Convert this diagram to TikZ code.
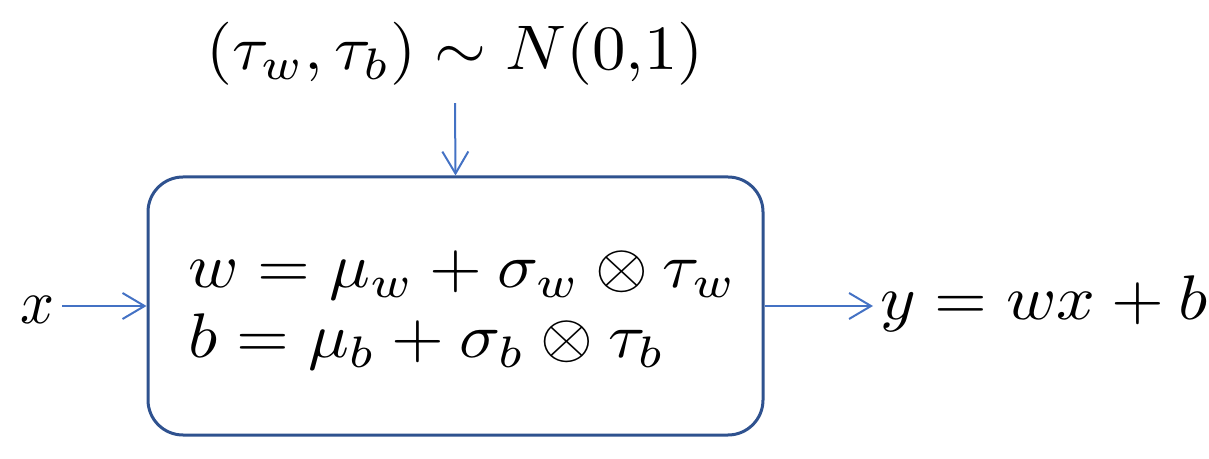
\documentclass[tikz,border=0pt]{standalone}
\usepackage{graphicx}
\usetikzlibrary{arrows.meta}
\definecolor{arrblue}{HTML}{4472C4}
\definecolor{boxblue}{HTML}{2F528F}
\newcommand{\bigmath}[2]{\scalebox{#1}[3.15]{$#2$}}
\tikzset{
  arr/.style={draw=arrblue, line width=1pt, -{Straight Barb[length=11pt,width=13pt,line width=1pt]}},
  mainbox/.style={draw=boxblue, line width=1.5pt, rounded corners=17.5pt, minimum width=307.5pt, minimum height=129pt, inner sep=0pt},
  lbl/.style={font=\normalsize, inner sep=3.5pt},
}
\begin{document}
\begin{tikzpicture}[x=0.5pt,y=-0.5pt]
\useasboundingbox (0,0) rectangle (1209,459);
\node[mainbox] (box) at (455.5,306) {};
\node[lbl, anchor=base west, inner sep=0pt] (eqs) at (188,288) {\vtop{\baselineskip=35pt\lineskiplimit=-100pt\lineskip=0pt
  \hbox{\bigmath{3.395}{w = \mu_w + \sigma_w \otimes \tau_w}}
  \hbox{\bigmath{3.395}{b = \mu_b + \sigma_b \otimes \tau_b}}}};
\node[lbl, anchor=base, inner xsep=0pt, inner ysep=8.5pt] (noise) at (455,70) {\bigmath{3.34}{(\tau_w, \tau_b) \sim N(0{,}1)}};
\node[lbl, anchor=base east] (xin) at (62,324) {\bigmath{2.975}{x}};
\node[lbl, anchor=base west] (yout) at (873,320) {\bigmath{3.395}{y = wx + b}};
\draw[arr] (box.west -| xin.east) -- (box.west);
\draw[arr] (box.east) -- (box.east -| yout.west);
\draw[arr] (noise.south) -- (box.north);
\end{tikzpicture}
\end{document}
